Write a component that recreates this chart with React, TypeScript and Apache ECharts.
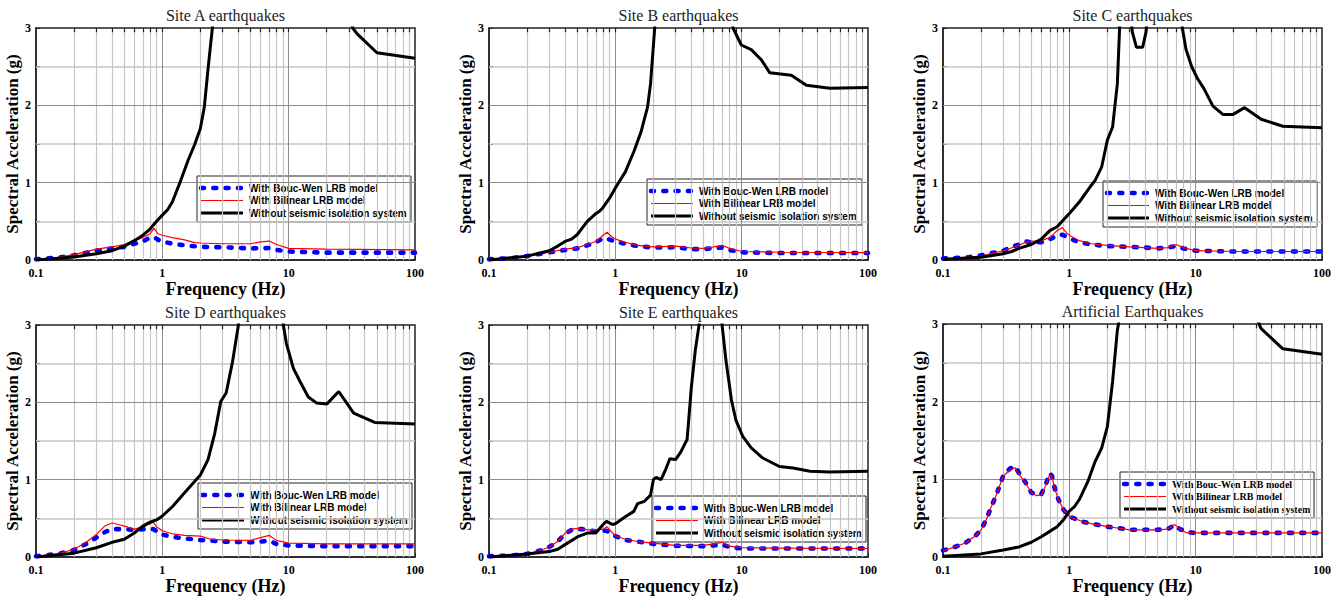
import { useEffect, useRef } from "react";
import * as echarts from "echarts";

type Pt = [number, number];

// Panel titles and legend entries
const panelTitles = [
  "Site A earthquakes",
  "Site B earthquakes",
  "Site C earthquakes",
  "Site D earthquakes",
  "Site E earthquakes",
  "Artificial Earthquakes",
];
const seriesNames = [
  "With Bouc-Wen LRB model",
  "With Bilinear LRB model",
  "Without seismic isolation system",
];

// Log-axis grid frequencies (Hz)
const minorFreqs = [0.2, 0.3, 0.4, 0.5, 0.6, 0.7, 0.8, 0.9, 2, 3, 4, 5, 6, 7, 8, 9, 20, 30, 40, 50, 60, 70, 80, 90];
const decadeFreqs = [1, 10];
const halfLevels = [0.5, 1.5, 2.5];
const wholeLevels = [1, 2];
const Y_MAX = 3;
const TOP_TICK = 0.055;

// Site A — spectral acceleration (g) vs frequency (Hz)
const siteA_boucWen: Pt[] = [[0.1,0.01],[0.15,0.03],[0.2,0.06],[0.3,0.12],[0.4,0.15],[0.5,0.17],[0.6,0.21],[0.7,0.24],[0.8,0.29],[0.87,0.29],[0.95,0.25],[1.0,0.24],[1.2,0.21],[1.5,0.19],[2,0.17],[3,0.165],[5,0.15],[7,0.155],[8,0.13],[10,0.11],[20,0.095],[100,0.095]];
const siteA_bilinear: Pt[] = [[0.1,0.01],[0.15,0.035],[0.2,0.07],[0.3,0.14],[0.4,0.17],[0.5,0.2],[0.6,0.25],[0.7,0.29],[0.8,0.34],[0.86,0.41],[0.92,0.34],[1.0,0.32],[1.2,0.29],[1.5,0.26],[1.8,0.225],[2.0,0.22],[3,0.21],[5,0.21],[6,0.235],[7,0.245],[8,0.2],[10,0.15],[20,0.14],[100,0.13]];
const siteA_fixed: Pt[] = [[0.1,0.0],[0.2,0.04],[0.3,0.08],[0.4,0.12],[0.5,0.18],[0.6,0.25],[0.7,0.32],[0.8,0.4],[0.9,0.5],[1.0,0.58],[1.1,0.65],[1.2,0.75],[1.4,1.03],[1.6,1.29],[1.8,1.49],[2.0,1.7],[2.15,1.98],[2.31,2.5],[2.49,3.0],[2.8,3.8],[4,5],[10,6],[25,4],[30,3.2],[32.1,3.0],[35,2.92],[50,2.68],[100,2.61]];

// Site B
const siteB_boucWen: Pt[] = [[0.1,0.01],[0.15,0.025],[0.2,0.05],[0.3,0.1],[0.4,0.13],[0.5,0.15],[0.6,0.19],[0.7,0.23],[0.8,0.28],[0.85,0.28],[0.95,0.25],[1.0,0.24],[1.2,0.21],[1.5,0.18],[2,0.16],[3,0.165],[4,0.14],[5,0.14],[6,0.155],[7,0.16],[8,0.13],[10,0.1],[20,0.09],[100,0.09]];
const siteB_bilinear: Pt[] = [[0.1,0.01],[0.2,0.05],[0.3,0.1],[0.4,0.14],[0.5,0.16],[0.6,0.2],[0.7,0.24],[0.8,0.32],[0.86,0.36],[0.92,0.31],[1.0,0.27],[1.2,0.23],[1.5,0.19],[2,0.17],[3,0.18],[4,0.155],[5,0.15],[6,0.17],[7,0.19],[8,0.15],[10,0.11],[20,0.1],[100,0.095]];
const siteB_fixed: Pt[] = [[0.1,0.0],[0.2,0.05],[0.3,0.12],[0.35,0.18],[0.4,0.24],[0.45,0.27],[0.5,0.33],[0.6,0.5],[0.7,0.6],[0.75,0.63],[0.8,0.68],[0.9,0.8],[1.0,0.93],[1.2,1.14],[1.4,1.4],[1.6,1.66],[1.8,1.98],[1.9,2.28],[2.05,3.0],[2.5,4.5],[5,6],[8,3.5],[8.54,3.0],[9.93,2.78],[11.9,2.72],[14.3,2.59],[16.7,2.42],[24.7,2.39],[32.5,2.26],[50,2.22],[100,2.23]];

// Site C
const siteC_boucWen: Pt[] = [[0.1,0.02],[0.15,0.03],[0.2,0.06],[0.3,0.12],[0.35,0.17],[0.4,0.2],[0.45,0.24],[0.5,0.23],[0.6,0.23],[0.7,0.27],[0.85,0.33],[0.9,0.32],[1.0,0.28],[1.2,0.23],[1.5,0.2],[2,0.18],[3,0.17],[4,0.16],[5,0.15],[6,0.16],[7,0.18],[8,0.15],[10,0.12],[20,0.11],[100,0.11]];
const siteC_bilinear: Pt[] = [[0.1,0.01],[0.2,0.05],[0.3,0.12],[0.4,0.19],[0.45,0.23],[0.5,0.24],[0.6,0.25],[0.7,0.29],[0.8,0.38],[0.88,0.42],[0.95,0.35],[1.0,0.32],[1.2,0.25],[1.5,0.21],[2,0.19],[3,0.17],[5,0.15],[6,0.16],[7,0.2],[8,0.16],[10,0.12],[20,0.11],[100,0.11]];
const siteC_fixed: Pt[] = [[0.1,0.01],[0.2,0.035],[0.3,0.08],[0.35,0.11],[0.4,0.15],[0.5,0.2],[0.6,0.27],[0.7,0.38],[0.8,0.43],[0.9,0.52],[1.0,0.6],[1.2,0.75],[1.5,0.97],[1.6,1.03],[1.8,1.2],[2.0,1.55],[2.2,1.72],[2.4,2.28],[2.5,3.0],[2.75,4.5],[3.0,3.3],[3.15,2.95],[3.4,2.75],[3.8,2.75],[4.05,2.95],[4.2,3.3],[6,5],[7.6,3.4],[7.84,3.0],[8.4,2.72],[9.3,2.5],[10.3,2.35],[11.6,2.22],[13.7,1.99],[16.5,1.88],[19.6,1.88],[24.4,1.97],[33,1.82],[49,1.73],[100,1.71]];

// Site D
const siteD_boucWen: Pt[] = [[0.1,0.01],[0.15,0.04],[0.2,0.09],[0.25,0.17],[0.3,0.25],[0.35,0.32],[0.4,0.36],[0.5,0.36],[0.6,0.35],[0.7,0.36],[0.85,0.36],[1.0,0.29],[1.2,0.26],[1.5,0.24],[2,0.22],[3,0.2],[5,0.19],[6,0.2],[7,0.21],[8,0.17],[10,0.15],[20,0.14],[100,0.14]];
const siteD_bilinear: Pt[] = [[0.1,0.01],[0.15,0.04],[0.2,0.1],[0.25,0.19],[0.3,0.29],[0.35,0.4],[0.4,0.44],[0.45,0.42],[0.5,0.4],[0.6,0.36],[0.7,0.39],[0.85,0.45],[0.9,0.39],[1.0,0.34],[1.2,0.3],[1.5,0.28],[2.0,0.27],[2.4,0.23],[3,0.22],[5,0.215],[6,0.25],[7,0.28],[8,0.215],[10,0.18],[20,0.17],[100,0.17]];
const siteD_fixed: Pt[] = [[0.1,0.0],[0.2,0.05],[0.3,0.12],[0.4,0.19],[0.5,0.23],[0.6,0.31],[0.7,0.4],[0.8,0.45],[0.9,0.48],[1.0,0.53],[1.2,0.65],[1.5,0.83],[2.0,1.06],[2.3,1.26],[2.6,1.6],[2.9,2.01],[3.2,2.12],[3.6,2.53],[4.0,3.0],[4.5,4.2],[7,5.5],[8.8,3.5],[9.07,3.0],[9.6,2.76],[10.9,2.44],[12.3,2.27],[14.3,2.07],[16.7,1.99],[20.1,1.98],[24.9,2.14],[32.7,1.86],[48,1.74],[100,1.72]];

// Site E
const siteE_boucWen: Pt[] = [[0.1,0.01],[0.15,0.02],[0.2,0.04],[0.25,0.08],[0.3,0.13],[0.35,0.2],[0.4,0.3],[0.45,0.35],[0.5,0.36],[0.55,0.36],[0.6,0.35],[0.7,0.33],[0.8,0.34],[0.85,0.34],[0.95,0.29],[1.0,0.27],[1.2,0.22],[1.5,0.2],[2,0.17],[3,0.145],[5,0.14],[6,0.15],[7,0.16],[8,0.13],[10,0.11],[20,0.11],[100,0.11]];
const siteE_bilinear: Pt[] = [[0.1,0.01],[0.2,0.04],[0.25,0.08],[0.3,0.13],[0.35,0.2],[0.4,0.31],[0.45,0.36],[0.5,0.37],[0.6,0.35],[0.7,0.35],[0.8,0.36],[0.86,0.39],[0.95,0.31],[1.0,0.275],[1.2,0.23],[1.5,0.2],[2,0.18],[3,0.15],[5,0.15],[6,0.17],[7,0.19],[8,0.14],[10,0.12],[20,0.115],[100,0.11]];
const siteE_fixed: Pt[] = [[0.1,0.0],[0.2,0.04],[0.3,0.07],[0.35,0.1],[0.4,0.16],[0.5,0.26],[0.6,0.31],[0.7,0.31],[0.8,0.42],[0.85,0.46],[0.95,0.42],[1.0,0.43],[1.2,0.52],[1.4,0.59],[1.5,0.69],[1.7,0.72],[1.9,0.8],[2.0,1.0],[2.1,1.03],[2.3,1.0],[2.5,1.13],[2.7,1.27],[3.0,1.26],[3.3,1.36],[3.7,1.52],[4.0,2.2],[4.3,2.68],[4.6,3.0],[5,4.5],[5.5,6],[6.5,4.5],[7.0,3.0],[7.5,2.55],[8.3,2.03],[9.0,1.77],[10.2,1.56],[11.9,1.41],[14.7,1.28],[19.9,1.17],[25.5,1.15],[34.7,1.11],[49.7,1.1],[100,1.11]];

// Artificial records
const artificial_boucWen: Pt[] = [[0.1,0.085],[0.12,0.12],[0.15,0.18],[0.18,0.27],[0.2,0.35],[0.22,0.48],[0.24,0.64],[0.26,0.77],[0.28,0.91],[0.3,1.05],[0.34,1.14],[0.37,1.17],[0.4,1.08],[0.45,0.96],[0.5,0.83],[0.55,0.8],[0.6,0.81],[0.65,0.93],[0.7,1.08],[0.73,1.04],[0.77,0.87],[0.82,0.74],[0.9,0.61],[1.0,0.52],[1.3,0.45],[1.6,0.42],[2.0,0.39],[2.5,0.37],[3,0.35],[4,0.35],[5,0.35],[6,0.36],[6.8,0.41],[7.5,0.36],[8.5,0.32],[10,0.31],[100,0.31]];
const artificial_bilinear: Pt[] = [[0.1,0.08],[0.12,0.12],[0.15,0.18],[0.18,0.27],[0.2,0.35],[0.22,0.48],[0.24,0.64],[0.26,0.77],[0.28,0.91],[0.3,1.04],[0.34,1.12],[0.37,1.15],[0.4,1.07],[0.45,0.95],[0.5,0.83],[0.55,0.79],[0.6,0.8],[0.65,0.92],[0.7,1.06],[0.73,1.03],[0.77,0.87],[0.82,0.74],[0.9,0.61],[1.0,0.52],[1.3,0.45],[1.6,0.42],[2.0,0.39],[2.5,0.37],[3,0.35],[4,0.35],[5,0.35],[6,0.36],[6.8,0.42],[7.5,0.36],[8.5,0.31],[10,0.31],[100,0.31]];
const artificial_fixed: Pt[] = [[0.1,0.01],[0.2,0.04],[0.3,0.09],[0.4,0.13],[0.5,0.19],[0.6,0.26],[0.7,0.33],[0.8,0.39],[0.9,0.48],[1.0,0.59],[1.1,0.65],[1.2,0.74],[1.4,0.97],[1.6,1.23],[1.8,1.4],[2.0,1.68],[2.2,2.26],[2.4,2.92],[2.45,3.0],[3,4.5],[10,6],[28,3.5],[31.7,3.0],[33,2.94],[49,2.68],[100,2.61]];

const panelData: Pt[][][] = [
  [siteA_boucWen, siteA_bilinear, siteA_fixed],
  [siteB_boucWen, siteB_bilinear, siteB_fixed],
  [siteC_boucWen, siteC_bilinear, siteC_fixed],
  [siteD_boucWen, siteD_bilinear, siteD_fixed],
  [siteE_boucWen, siteE_bilinear, siteE_fixed],
  [artificial_boucWen, artificial_bilinear, artificial_fixed],
];

// Plot-area placement of each panel
const GRIDS = [
  { left: 36, top: 28, width: 379, height: 232 },
  { left: 489, top: 28, width: 379, height: 232 },
  { left: 943, top: 28, width: 379, height: 232 },
  { left: 36, top: 325, width: 379, height: 232 },
  { left: 489, top: 325, width: 379, height: 232 },
  { left: 943, top: 324, width: 379, height: 233 },
];
// Legend box placement of each panel
const LEGENDS = [
  { x: 197, y: 176, w: 214, serif: false },
  { x: 647, y: 179, w: 215, serif: false },
  { x: 1103, y: 181, w: 214, serif: false },
  { x: 198, y: 483, w: 214, serif: false },
  { x: 652, y: 496, w: 214, serif: false },
  { x: 1120, y: 472, w: 194, serif: true },
];

const SERIF = '"Liberation Serif", "Times New Roman", serif';
const SANS = '"Liberation Sans", Arial, sans-serif';
const LIGHT = "#c6c6c6";
const DARK = "#8c8c8c";
const AXIS = "#222";
const COLORS = ["#0000ff", "#ff0000", "#000000"];
const BLUE_DOTS = { width: 4.6, type: [3, 9.3], cap: "round" };

function fmtFreq(v: number) {
  return v < 1 ? v.toFixed(1) : String(Math.round(v));
}

function legendGroup(lg: { x: number; y: number; w: number; serif: boolean }) {
  const h = 46;
  const rows = [12, 24.5, 37];
  const font = lg.serif ? `bold 10px ${SERIF}` : `bold 10px ${SANS}`;
  const x1 = lg.x + 4;
  const x2 = lg.x + 46;
  const tx = lg.x + 52;
  const strokes = [
    { stroke: COLORS[0], lineWidth: BLUE_DOTS.width, lineDash: BLUE_DOTS.type, lineCap: "round" },
    { stroke: COLORS[1], lineWidth: 1.2 },
    { stroke: COLORS[2], lineWidth: 3 },
  ];
  const children: any[] = [
    {
      type: "rect",
      shape: { x: lg.x, y: lg.y, width: lg.w, height: h },
      style: { fill: "#fff", stroke: AXIS, lineWidth: 1 },
    },
  ];
  rows.forEach((r, i) => {
    children.push({
      type: "line",
      shape: { x1, y1: lg.y + r, x2, y2: lg.y + r },
      style: strokes[i],
    });
    children.push({
      type: "text",
      x: tx,
      y: lg.y + r,
      style: { text: seriesNames[i], font, fill: "#000", verticalAlign: "middle", align: "left" },
    });
  });
  return { type: "group", z: 100, children };
}

export default function App() {
  const ref = useRef<HTMLDivElement>(null);

  useEffect(() => {
    if (!ref.current) return;
    const chart = echarts.init(ref.current, null, { renderer: "svg" });

    // Grid lines of the log-frequency / acceleration plane
    const gridLineItems: any[] = [
      ...minorFreqs.map((f) => ({ xAxis: f, lineStyle: { color: LIGHT, width: 1.2 } })),
      ...halfLevels.map((v) => ({ yAxis: v, lineStyle: { color: LIGHT, width: 1.5 } })),
      ...decadeFreqs.map((f) => ({ xAxis: f, lineStyle: { color: DARK, width: 1 } })),
      ...wholeLevels.map((v) => ({ yAxis: v, lineStyle: { color: DARK, width: 1 } })),
    ];
    // Short inward ticks along the top edge
    const topTicks: any[] = [...minorFreqs, ...decadeFreqs].map((f) => [
      { coord: [f, Y_MAX], lineStyle: { color: AXIS, width: 1.2 } },
      { coord: [f, Y_MAX - TOP_TICK] },
    ]);

    const xAxes = GRIDS.map((_, i) => ({
      type: "log",
      logBase: 10,
      gridIndex: i,
      min: 0.1,
      max: 100,
      name: "Frequency (Hz)",
      nameLocation: "middle",
      nameGap: 17,
      nameTextStyle: { fontFamily: SERIF, fontWeight: "bold", fontSize: 18, color: "#000" },
      axisLine: { show: true, lineStyle: { color: AXIS, width: 1.5 } },
      axisTick: { show: true, inside: true, length: 4, lineStyle: { color: AXIS } },
      axisLabel: {
        formatter: (v: number) => fmtFreq(v),
        fontFamily: SERIF,
        fontWeight: "bold",
        fontSize: 12,
        color: "#000",
        margin: 7,
      },
      splitLine: { show: false },
    }));

    const yAxes = GRIDS.map((_, i) => ({
      type: "value",
      gridIndex: i,
      min: 0,
      max: Y_MAX,
      interval: 0.5,
      name: "Spectral Acceleration (g)",
      nameLocation: "middle",
      nameGap: 14,
      nameTextStyle: { fontFamily: SERIF, fontWeight: "bold", fontSize: 17, color: "#000" },
      axisLine: { show: true, lineStyle: { color: AXIS, width: 1.5 } },
      axisTick: { show: true, inside: true, length: 4, lineStyle: { color: AXIS } },
      axisLabel: {
        formatter: (v: number) => (Number.isInteger(v) ? String(v) : ""),
        fontFamily: SERIF,
        fontWeight: "bold",
        fontSize: 12,
        color: "#000",
        margin: 5,
      },
      splitLine: { show: false },
    }));

    const series: any[] = [];
    GRIDS.forEach((_, i) => {
      series.push({
        type: "line",
        name: "grid-lines",
        xAxisIndex: i,
        yAxisIndex: i,
        data: [],
        silent: true,
        z: 1,
        markLine: {
          silent: true,
          symbol: ["none", "none"],
          label: { show: false },
          z: 1,
          lineStyle: { type: "solid", width: 1 },
          emphasis: { disabled: true },
          data: [...gridLineItems, ...topTicks],
        },
      });
      panelData[i].forEach((pts, k) => {
        const lineStyle: any =
          k === 0
            ? { color: COLORS[0], ...BLUE_DOTS }
            : k === 1
            ? { color: COLORS[1], width: 1.2 }
            : { color: COLORS[2], width: 3 };
        series.push({
          type: "line",
          name: seriesNames[k],
          xAxisIndex: i,
          yAxisIndex: i,
          data: pts,
          symbol: "none",
          showSymbol: false,
          clip: true,
          z: 3 + k,
          lineStyle,
          silent: true,
        });
      });
    });

    const titles = GRIDS.map((g, i) => ({
      type: "text",
      x: g.left + g.width / 2,
      y: g.top - 13,
      style: {
        text: panelTitles[i],
        font: `16px ${SERIF}`,
        fill: "#222",
        align: "center",
        verticalAlign: "middle",
      },
    }));

    chart.setOption({
      animation: false,
      backgroundColor: "#fff",
      grid: GRIDS.map((g) => ({
        ...g,
        show: true,
        borderColor: AXIS,
        borderWidth: 1.5,
        backgroundColor: "transparent",
        containLabel: false,
      })),
      xAxis: xAxes,
      yAxis: yAxes,
      series,
      graphic: [...titles, ...LEGENDS.map(legendGroup)],
    });

    return () => chart.dispose();
  }, []);

  return (
    <div
      ref={ref}
      style={{ position: "fixed", left: 0, top: 0, width: 1343, height: 599, background: "#fff" }}
    />
  );
}
